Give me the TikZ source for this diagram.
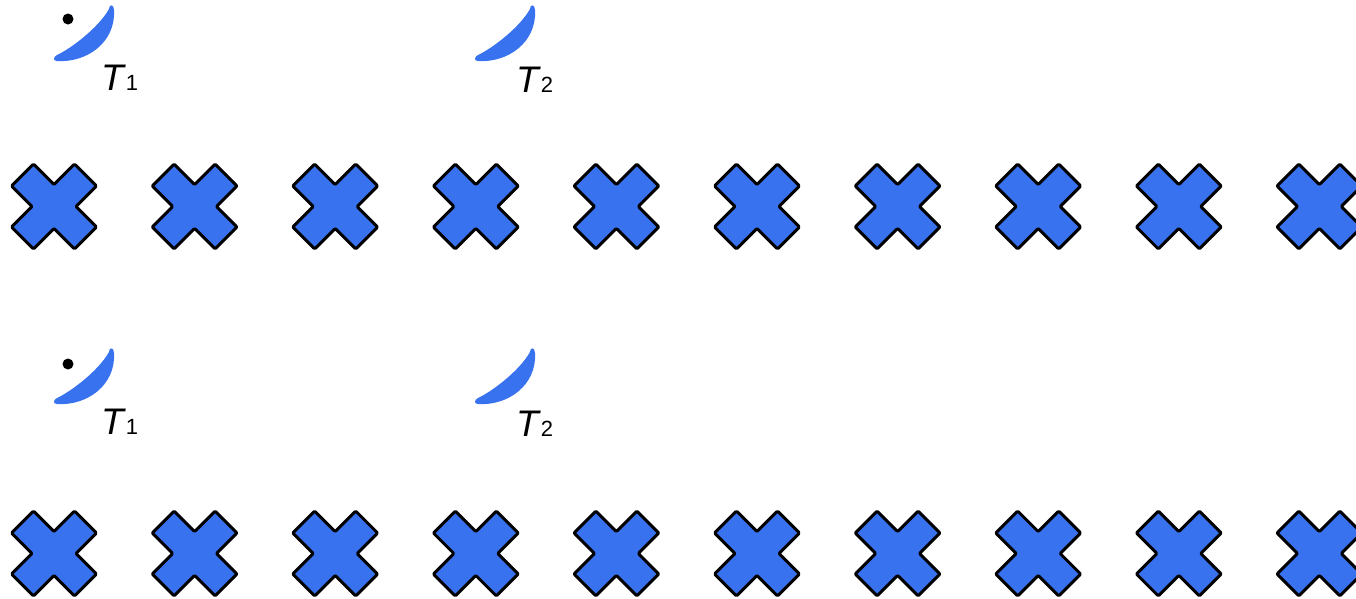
\documentclass[tikz,border=0pt]{standalone}
\usepackage{fontspec}
\setmainfont{Liberation Sans}
\definecolor{xblue}{RGB}{56,114,238}
\begin{document}
\begin{tikzpicture}[x=1pt,y=-1pt,
  crossshape/.style={fill=xblue, draw=black, line width=3pt, rounded corners=1pt, line join=round},
  tlabel/.style={anchor=base west, inner sep=0pt, font=\fontsize{37}{37}\selectfont},
  dotshape/.style={circle, fill=black, draw=none, inner sep=0pt, minimum size=11pt},
  pics/moon/.style={code={
    \fill[xblue] (0,1) .. controls (30,3) and (59,-18) .. (57,-50)
      .. controls (57,-56) and (52,-56) .. (52,-51)
      .. controls (42,-33) and (15,-12) .. (0,-5)
      .. controls (-4,-3) and (-4,1) .. (0,1) -- cycle;}}]
\useasboundingbox (0,0) rectangle (1356,598);
% first group
\pic (m1) at (57,60) {moon};
\node[dotshape] (d1) at (68,19) {};
\node[tlabel] (t1) at (101,90) {\textit{T}{\fontsize{22}{22}\selectfont 1}};
\pic (m2) at (478,60) {moon};
\node[tlabel] (t2) at (516,92) {\textit{T}{\fontsize{22}{22}\selectfont 2}};
% second group
\pic (m3) at (57,403) {moon};
\node[dotshape] (d3) at (68,364) {};
\node[tlabel] (t3) at (101,434) {\textit{T}{\fontsize{22}{22}\selectfont 1}};
\pic (m4) at (478,403) {moon};
\node[tlabel] (t4) at (516,436) {\textit{T}{\fontsize{22}{22}\selectfont 2}};
% crosses
\foreach \row in {206.5,553.5}{
  \foreach \i in {0,...,9}{
    \draw[crossshape, shift={({54+140.6*\i},\row)}, rotate=45]
      (15.5,15.5) -- (15.5,44.5) -- (-15.5,44.5) -- (-15.5,15.5) -- (-44.5,15.5)
      -- (-44.5,-15.5) -- (-15.5,-15.5) -- (-15.5,-44.5) -- (15.5,-44.5)
      -- (15.5,-15.5) -- (44.5,-15.5) -- (44.5,15.5) -- cycle;
  }
}
\end{tikzpicture}
\end{document}
